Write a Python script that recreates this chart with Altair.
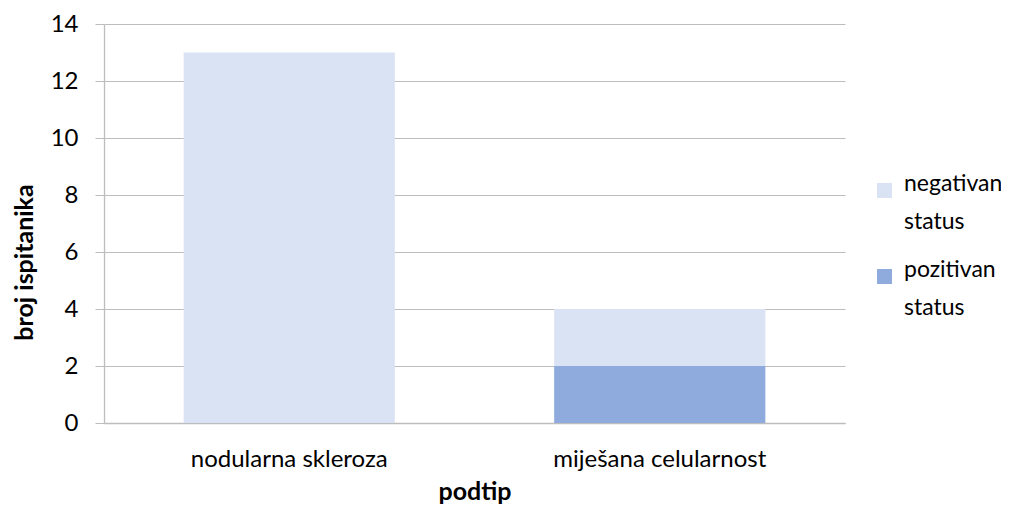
import altair as alt
import pandas as pd

categories = ["nodularna skleroza", "nodularna skleroza", "miješana celularnost", "miješana celularnost"]
statuses = ["negativan status", "pozitivan status", "negativan status", "pozitivan status"]
counts = [13, 0, 2, 2]
stack_order = [1, 0, 1, 0]

df = pd.DataFrame({"podtip": categories, "status": statuses, "broj": counts, "ord": stack_order})

FONT = "Lato"
GRID = "#BDBDBD"

chart = alt.Chart(df).mark_bar().encode(
    x=alt.X("podtip:N", sort=["nodularna skleroza", "miješana celularnost"],
            scale=alt.Scale(paddingInner=0.43, paddingOuter=0.215),
            axis=alt.Axis(title="podtip", labelAngle=0, ticks=False, labelPadding=24,
                          titlePadding=8, domainColor=GRID, grid=False, labelLimit=400)),
    y=alt.Y("broj:Q", scale=alt.Scale(domain=[0, 14]),
            axis=alt.Axis(title="broj ispitanika", values=[0, 2, 4, 6, 8, 10, 12, 14],
                          tickSize=9, tickColor=GRID, domainColor=GRID, gridColor=GRID,
                          labelPadding=17, titlePadding=13, titleY=238)),
    color=alt.Color("status:N", sort=["negativan status", "pozitivan status"],
                    scale=alt.Scale(domain=["negativan status", "pozitivan status"],
                                    range=["#DAE3F3", "#8FAADC"]),
                    legend=alt.Legend(title=None, orient="none", legendX=769, legendY=155,
                                      symbolType="square", symbolSize=225, symbolStrokeWidth=0,
                                      labelExpr="split(datum.label, ' ')",
                                      labelBaseline="alphabetic", labelOffset=8, rowPadding=24)),
    order=alt.Order("ord:Q"),
).properties(
    width=741, height=399,
    autosize=alt.AutoSizeParams(type="none"),
    padding={"left": 96, "top": 16, "right": 156, "bottom": 83},
).configure(
    style={"guide-label": {"lineHeight": 38}}
).configure_axis(
    labelFont=FONT, titleFont=FONT, labelFontSize=24, titleFontSize=25,
    labelColor="#000000", titleColor="#000000", titleFontWeight="bold", domainWidth=1.3,
).configure_legend(labelFont=FONT, labelFontSize=23, labelColor="#000000", labelLimit=200).configure_view(stroke=None)

chart.save("out.html", embed_options={"renderer": "svg", "actions": False})
